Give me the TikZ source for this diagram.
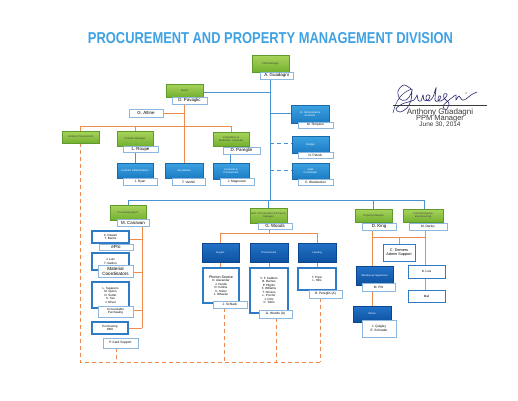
\documentclass[tikz,border=0pt]{standalone}
\usepackage{fontspec}
\setmainfont{Liberation Sans}
\definecolor{gtop}{HTML}{A8D45C}
\definecolor{gbot}{HTML}{74B030}
\definecolor{gbrd}{HTML}{5E9A2C}
\definecolor{btop}{HTML}{3CA2E2}
\definecolor{bbot}{HTML}{1C7CC4}
\definecolor{bbrd}{HTML}{1A6AAA}
\definecolor{dtop}{HTML}{2272C8}
\definecolor{dbot}{HTML}{0E52A0}
\definecolor{dbrd}{HTML}{0C4690}
\definecolor{lbrd}{HTML}{8CB8E0}
\definecolor{wbrd}{HTML}{2E7CC6}
\definecolor{oline}{HTML}{EE8A4C}
\definecolor{bline}{HTML}{4A92D2}
\definecolor{ttl}{HTML}{3EA2E4}
\definecolor{sig}{HTML}{3A3A3A}
\pgfdeclarelayer{bg}
\pgfsetlayers{bg,main}
\begin{document}
\begin{tikzpicture}[x=1pt,y=-1pt,
  sz/.style 2 args={minimum width=#1pt, minimum height=#2pt},
  box/.style={rectangle, inner sep=0.4pt, align=center, font=\fontsize{2.6}{3.1}\selectfont},
  gbox/.style={box, draw=gbrd, line width=0.4pt, top color=gtop, bottom color=gbot, text=black!75},
  lbox/.style={box, draw=bbrd, line width=0.4pt, top color=btop, bottom color=bbot, text=white},
  dbox/.style={box, draw=dbrd, line width=0.4pt, top color=dtop, bottom color=dbot, text=white},
  lab/.style={box, draw=lbrd, line width=0.5pt, fill=white, text=black, font=\fontsize{4.4}{4.8}\selectfont},
  slab/.style={lab, font=\fontsize{3.2}{3.6}\selectfont},
  wbox/.style={box, draw=wbrd, line width=1.1pt, fill=white, text=black, font=\fontsize{3}{3.5}\selectfont},
  oln/.style={draw=oline, line width=1pt},
  bln/.style={draw=bline, line width=1pt},
  odash/.style={oln, dash pattern=on 4pt off 3pt},
  bdash/.style={bln, dash pattern=on 4pt off 3pt},
  stext/.style={text=sig, inner sep=0pt}
]
\useasboundingbox (0,0) rectangle (518,400);

% title
\node[text=ttl, inner sep=0pt] (title) at (270.5,38) {\resizebox{365pt}{11pt}{\bfseries PROCUREMENT AND PROPERTY MANAGEMENT DIVISION}};

% top
\node[gbox, sz={37}{17}] (ppm) at (270.5,63.5) {PPM Manager};
\node[lab, sz={33}{7}] (ppmL) at (276.5,75.5) {A. Guadagni};

\node[gbox, sz={37}{13}] (board) at (184.5,90.5) {Board};
\node[lab, sz={35}{7}] (boardL) at (189.5,100.5) {D. Pavaglic};
\node[lab, sz={34}{8}] (attine) at (146,113) {G. Attine};

% right staff
\node[lbox, sz={38}{18}] (sraa) at (310,114) {Sr. Administrative\\Assistant};
\node[slab, sz={35}{6}] (sraaL) at (315.5,125) {M. Simpson};
\node[lbox, sz={37}{17}] (budget) at (310.5,144.5) {Budget};
\node[slab, sz={35}{6}] (budgetL) at (315.5,155.5) {N. Pelock};
\node[lbox, sz={37}{16}] (audit) at (310.5,171) {Audit\\Coordinator};
\node[slab, sz={35}{6}] (auditL) at (315.5,182.5) {C. Weisbecker};

% board level 2
\node[gbox, sz={37}{12}] (cp) at (80.5,137) {Contract Procurement};
\node[gbox, sz={36}{15}] (cm) at (135,138.5) {Contract Manager};
\node[lab, sz={35}{6}] (cmL) at (140.5,149) {L. Roupe};
\node[gbox, sz={36}{14}] (csba) at (231,139) {Compliance \&\\Small Bus. Advocate};
\node[lab, sz={37}{7}] (csbaL) at (241.5,150.5) {D. Pareglin};

\node[lbox, sz={36}{15}] (ca) at (135,170.5) {Contract Administration};
\node[slab, sz={34}{7}] (caL) at (140,182) {J. Ryan};
\node[lbox, sz={38}{15}] (sec) at (184,170.5) {Secretaries};
\node[slab, sz={33}{7}] (secL) at (188.5,182) {T. Vanhill};
\node[lbox, sz={36}{16}] (cpx) at (231,171) {Contracts \&\\Procurement};
\node[slab, sz={34}{7}] (cpxL) at (237,182) {J. Magnuson};

% second row
\node[gbox, sz={36}{15}] (pur) at (128,212.5) {Purchasing Agent};
\node[lab, sz={32}{7}] (purL) at (133,222.5) {M. Canavan};
\node[gbox, sz={37}{15}] (woods) at (268.5,215.5) {Asst. Procurement \& Property\\Manager};
\node[lab, sz={34}{6}] (woodsL) at (275,226) {G. Woods};
\node[gbox, sz={37}{13}] (king) at (373.5,215.5) {Property Manager};
\node[lab, sz={34}{7}] (kingL) at (379,226.5) {D. King};
\node[gbox, sz={40}{13}] (darley) at (423,215.5) {Central Shipping\\and Receiving};
\node[slab, sz={38}{7}] (darleyL) at (428,226.5) {M. Darley};

% purchasing column
\node[wbox, sz={37}{12}] (pa) at (110.5,237) {C. Dewart\\T. Banks};
\node[lab, sz={34}{6}] (paL) at (116,247) {ePro};
\node[wbox, sz={37}{17}] (pb) at (110.5,261.5) {J. Lutz\\T. Gallion};
\node[lab, sz={35}{12}, font=\fontsize{4.6}{5}\selectfont] (pbL) at (115.5,271) {Material\\Coordinators};
\node[wbox, sz={37}{26}] (pc) at (110.5,295) {L. Tagarano\\M. Quinn\\D. Sutter\\S. Tan\\J. Oliver};
\node[slab, sz={35}{11}, font=\fontsize{3}{3.4}\selectfont] (pcL) at (115.5,311.5) {Consumable\\Purchasing};
\node[wbox, sz={36}{12}] (pd) at (110,328) {Purchasing\\HBU};
\node[slab, sz={35}{10}] (pdL) at (120.5,343) {P-Card Support};

% woods column
\node[dbox, sz={37}{19}] (b1) at (220.5,252.5) {Buyers};
\node[dbox, sz={38}{19}] (b2) at (269,252.5) {Procurement};
\node[dbox, sz={38}{19}] (b3) at (317,252.5) {Leasing};
\node[wbox, sz={36}{35}] (w1) at (221,285.5) {{\fontsize{3.6}{4}\selectfont Photon Source}\\D. Alexander\\J. Hurdis\\R. Collins\\C. Sitzer\\J. Wheeler};
\node[slab, sz={34}{7}] (w1L) at (230,304.5) {J. Schlack};
\node[wbox, sz={38}{45}] (w2) at (269,290.5) {V. F. Caldaro\\B. Barnes\\P. Pilgrim\\F. Williams\\T. Stinson\\L. Proctor\\J. Fritz\\C. Tobin};
\node[slab, sz={33}{8}] (w2L) at (275.5,314) {G. Woods (A)};
\node[wbox, sz={38}{22}] (w3) at (317,279) {T. Pivar\\L. Hills};
\node[slab, sz={33}{8}] (w3L) at (325.5,294) {B. Pereglin (A)};

% king column
\node[wbox, line width=0.7pt, sz={32}{17}, font=\fontsize{3.8}{4.3}\selectfont] (admin) at (399,252.5) {C. Demers\\Admin Support};
\node[dbox, sz={37}{19}] (ws) at (374.5,275.5) {Warehouse Supervisor};
\node[slab, sz={33}{8}] (wsL) at (378.5,287.5) {M. Pitt};
\node[dbox, sz={38}{16}] (stores) at (372,314) {Stores};
\node[slab, sz={34}{17}] (storesL) at (379,328.5) {J. Quigley\\E. Schrader};
\node[wbox, line width=0.7pt, sz={37}{13}] (lutz) at (426.5,271.5) {D. Lutz};
\node[wbox, line width=0.7pt, sz={37}{12}] (mail) at (426.5,296) {Mail};

% dashed corner coordinates
\coordinate (c1) at (80,362);
\coordinate (c2) at (116,362);
\coordinate (c3) at (224,362);
\coordinate (c4) at (276,362);
\coordinate (c5) at (320,362);

% signature
\node[stext, font=\fontsize{8}{8}\selectfont] (sn1) at (440,112) {Anthony Guadagni};
\node[stext, font=\fontsize{7.5}{7.5}\selectfont] (sn2) at (440,118.5) {PPM Manager};
\node[stext, font=\fontsize{6.5}{6.5}\selectfont] (sn3) at (440,124.5) {June 30, 2014};
\coordinate (sgA) at (393,105);
\coordinate (sgB) at (487,105);

\begin{pgfonlayer}{bg}
\fill[white] (0,0) rectangle (518,400);
% blue lines
\draw[bln] (ppm.south -| 270,0) -- (270,200);
\draw[bln] (270,92) -- (board.east |- 0,92);
\draw[bln] (270,113) -- (sraa.west |- 0,113);
\draw[bdash] (270,143) -- (budget.west |- 0,143);
\draw[bdash] (270,170) -- (audit.west |- 0,170);
\draw[bln] (128,200) -- (424,200);
\draw[bln] (128,200) -- (pur.north);
\draw[bln] (268.5,200) -- (woods.north);
\draw[bln] (373,200) -- (king.north -| 373,0);
\draw[bln] (424,200) -- (darley.north -| 424,0);
\draw[bln] (135,150) -- (ca.north);
\draw[bln] (230.5,152) -- (cpx.north -| 230.5,0);
% orange under board
\draw[oln] (board.south) -- (sec.north -| board.south);
\draw[oln] (attine.east) -- (184.5,113);
\draw[oln] (cp.north |- 0,126) -- (csba.north |- 0,126);
\draw[oln] (cp.north |- 0,126) -- (cp.north);
\draw[oln] (cm.north |- 0,126) -- (cm.north);
\draw[oln] (csba.north |- 0,126) -- (csba.north);
% purchasing column
\draw[oln] (142,225) -- (142,328);
\draw[oln] (142,239) -- (pa.east |- 0,239);
\draw[oln] (142,272) -- (pbL.east |- 0,272);
\draw[oln] (142,310) -- (pcL.east |- 0,310);
\draw[oln] (142,328) -- (pd.east);
% woods column
\draw[oln] (269,228) -- (269,233);
\draw[oln] (220.5,233) -- (317,233);
\draw[oln] (b1.north |- 0,233) -- (b1.north);
\draw[oln] (b3.north |- 0,233) -- (b3.north);
\draw[oln] (b1.south) -- (w1.north -| b1.south);
\draw[oln] (b2.south) -- (w2.north);
\draw[oln] (b3.south) -- (w3.north);
% king column
\draw[oln] (372,229) -- (ws.north -| 372,0);
\draw[oln] (372,237) -- (425,237);
\draw[oln] (425,229) -- (lutz.north -| 425,0);
\draw[oln] (399,237) -- (admin.north);
\draw[oln] (372,291) -- (stores.north);
\draw[oln] (lutz.south -| 425,0) -- (mail.north -| 425,0);
% dashed orange
\draw[odash] (cp.south -| c1) -- (c1) -- (c5);
\draw[odash] (pdL.south -| c2) -- (c2);
\draw[odash] (w1L.south -| c3) -- (c3);
\draw[odash] (w2L.south -| c4) -- (c4);
\draw[odash] (w3L.south -| c5) -- (c5);
% signature
\draw[sig, line width=0.5pt] (sgA) -- (sgB);
\draw[sig!70!blue, line width=0.6pt] plot[smooth, tension=0.6] coordinates {(411,89) (404,85) (398,91) (400,99) (406,100) (411,94) (412,89) (411,100) (407,108) (400,112) (396,109) (402,104) (414,100) (417,95) (418,100) (421,101) (423,95) (424,100) (428,100) (430,96) (427,95) (426,99) (429,101) (433,97) (436,88) (435,100) (438,101) (441,97) (439,96) (438,100) (441,101) (446,97) (447,94) (444,94) (444,98) (447,101) (449,104) (446,110) (443,106) (449,100) (453,97) (456,95) (456,100) (459,96) (462,100) (466,99) (471,95) (477,92)};
\fill[sig] (466,93) circle (0.6);
\draw[sig!70!blue, line width=0.5pt] (393,113) .. controls (396,100) and (402,92) .. (412,89);
\end{pgfonlayer}
\end{tikzpicture}
\end{document}
